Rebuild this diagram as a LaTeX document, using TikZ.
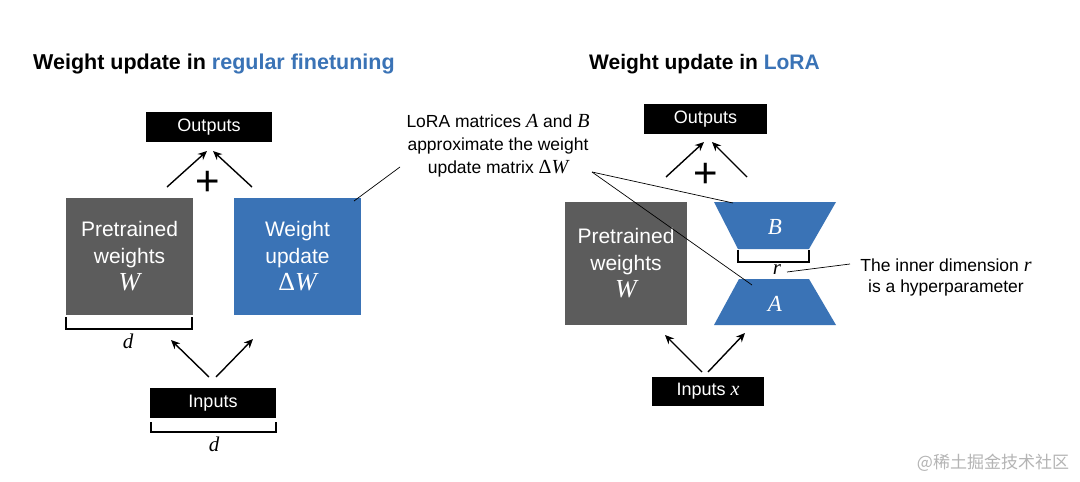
\documentclass[tikz,border=0pt]{standalone}
\usepackage{fontspec}
\setmainfont{Liberation Sans}
\newfontfamily\cjk{Noto Sans CJK SC}
\newfontfamily\serifvar{Liberation Serif}
\usetikzlibrary{arrows.meta,positioning,calc}
\definecolor{lorablue}{HTML}{3A73B6}
\definecolor{pregray}{HTML}{5C5C5C}
\definecolor{markgray}{HTML}{B4B4B4}

% italic serif letters as in the figure
\newcommand{\mvar}[1]{{\serifvar\itshape #1}}
\newcommand{\bigvar}[1]{{\fontsize{26}{27}\selectfont\serifvar #1}}

\tikzset{
  iobox/.style={fill=black, text=white, minimum width=126pt, minimum height=30pt, inner sep=0pt, font=\fontsize{18}{20}\selectfont},
  matbox/.style={minimum width=127pt, minimum height=117pt, inner sep=0pt, text=white, align=center, font=\fontsize{21}{27}\selectfont},
  flow/.style={-{Stealth[length=9pt,width=8pt]}, line width=1.4pt},
  dimline/.style={line width=1.3pt},
  noteline/.style={line width=0.7pt},
  notetext/.style={align=center, font=\fontsize{17.5}{23}\selectfont},
  dimlabel/.style={inner sep=0pt, font=\fontsize{21}{21}\selectfont\serifvar\itshape},
  plussign/.style={inner sep=0pt, font=\fontsize{42}{42}\selectfont},
  title/.style={anchor=west, inner sep=0pt, font=\bfseries\fontsize{21.5}{24}\selectfont}
}

\begin{document}
\begin{tikzpicture}[x=1pt, y=-1pt]
\useasboundingbox[fill=white] (0,0) rectangle (1080,482);

% regular finetuning
\node [title] (titL) at (33,64) {Weight update in \textcolor{lorablue}{regular finetuning}};
\node [iobox] (outL) at (209,127) {Outputs};
\node [matbox, fill=pregray] (preL) at (129.5,256.5) {Pretrained\\weights\\\bigvar{\itshape W}};
\node [matbox, fill=lorablue] (updL) at (297.5,256.5) {Weight\\update\\\bigvar{Δ\itshape W}};
\node [iobox] (inL) at (213,403) {Inputs};
\node [plussign] (plusL) at (208,183.5) {+};

\coordinate (upL1) at (167,187); \coordinate (upL2) at (252,187);
\coordinate (topL1) at (207,151); \coordinate (topL2) at (213,151);
\draw [flow] (upL1) -- (topL1);
\draw [flow] (upL2) -- (topL2);
\coordinate (botL1) at (209,377); \coordinate (botL2) at (216,377);
\coordinate (tipL1) at (171,340); \coordinate (tipL2) at (253,339);
\draw [flow] (botL1) -- (tipL1);
\draw [flow] (botL2) -- (tipL2);

\draw [dimline] (66,317) -- (66,329) -- (192,329) -- (192,317);
\node [dimlabel] (dL1) at (128,341) {d};
\draw [dimline] (151,422) -- (151,432) -- (276,432) -- (276,422);
\node [dimlabel] (dL2) at (214,444) {d};

% note on A and B
\node [notetext] (noteAB) at (498,146) {LoRA matrices {\fontsize{20}{23}\selectfont\mvar{A}} and {\fontsize{20}{23}\selectfont\mvar{B}}\\approximate the weight\\update matrix {\fontsize{20}{23}\selectfont\serifvar Δ\itshape W}};
\coordinate (noteW) at (400,167); \coordinate (noteE) at (592,172);
\draw [noteline] (noteW) -- (354,201);

% LoRA
\node [title, font=\bfseries\fontsize{21}{24}\selectfont] (titR) at (589,64) {Weight update in \textcolor{lorablue}{LoRA}};
\node [iobox, minimum width=123pt] (outR) at (705.5,119) {Outputs};
\node [matbox, minimum width=122pt, minimum height=123pt, fill=pregray] (preR) at (626,263.5) {Pretrained\\weights\\\bigvar{\itshape W}};
\node [iobox, minimum width=112pt, minimum height=29pt] (inR) at (708,391.5) {Inputs {\fontsize{20}{20}\selectfont\mvar{x}}};
\node [plussign] (plusR) at (706,175.5) {+};

\fill [lorablue] (714,202) -- (836,202) -- (809,249) -- (738,249) -- cycle;
\fill [lorablue] (739,279) -- (809,279) -- (836,325) -- (714,325) -- cycle;
\node [text=white, font=\fontsize{23}{23}\selectfont] (matB) at (775,227) {\mvar{B}};
\node [text=white, font=\fontsize{23}{23}\selectfont] (matA) at (775,304) {\mvar{A}};
\coordinate (inB) at (733,203); \coordinate (inA) at (752,285);
\draw [noteline] (noteE) -- (inB);
\draw [noteline] (noteE) -- (inA);

\coordinate (upR1) at (666,177); \coordinate (upR2) at (747,177);
\coordinate (topR1) at (704,142); \coordinate (topR2) at (712,142);
\draw [flow] (upR1) -- (topR1);
\draw [flow] (upR2) -- (topR2);
\coordinate (botR1) at (702,372); \coordinate (botR2) at (708,372);
\coordinate (tipR1) at (665,335); \coordinate (tipR2) at (745,333);
\draw [flow] (botR1) -- (tipR1);
\draw [flow] (botR2) -- (tipR2);

\draw [dimline] (738,250) -- (738,262) -- (809,262) -- (809,250);
\node [dimlabel] (rR) at (777,270) {r};
\node [notetext, font=\fontsize{17.5}{21}\selectfont] (noteR) at (946,277.5) {The inner dimension {\fontsize{20}{21}\selectfont\mvar{r}}\\is a hyperparameter};
\draw [noteline] (787,272) -- (850,264);

\node [text=markgray, font=\cjk\fontsize{17}{17}\selectfont] (mark) at (993,463) {@稀土掘金技术社区};
\end{tikzpicture}
\end{document}
